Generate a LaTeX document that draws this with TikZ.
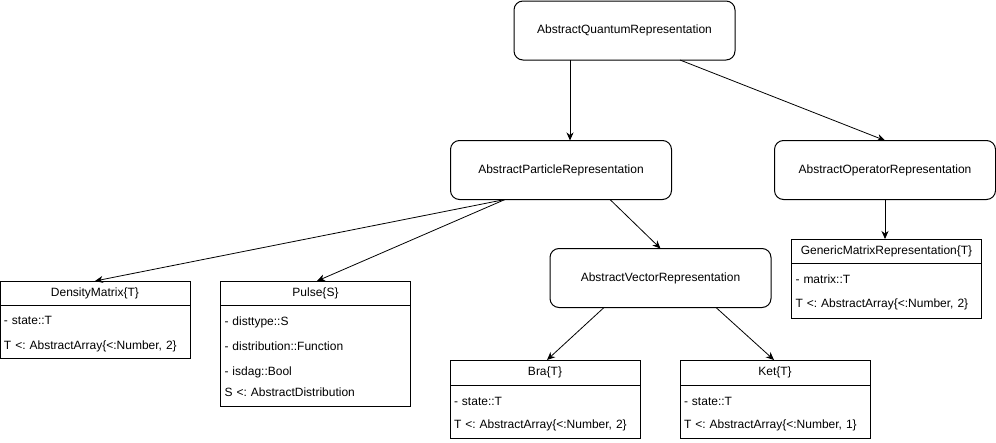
\documentclass[tikz,border=0pt]{standalone}
\usepackage{fontspec}
\setmainfont{Liberation Sans}
\usetikzlibrary{positioning, arrows.meta}
\newcommand{\boxfont}{\fontsize{12}{25}\selectfont\frenchspacing}
\tikzset{
  absbox/.style={
    draw,
    rounded corners=9pt,
    line width=1pt,
    minimum width=221pt,
    minimum height=59pt,
    outer sep=0pt,
    font=\boxfont
  },
  classhead/.style={draw, line width=1pt, minimum width=190pt, minimum height=24pt, inner sep=0pt, outer sep=0pt, font=\boxfont},
  classbody/.style={draw, line width=1pt, text width=182pt, align=left, inner xsep=4pt, inner ysep=0pt, outer sep=0pt, anchor=north, font=\boxfont},
  arr/.style={-{Stealth[length=8pt, width=7pt, inset=2.5pt]}, line width=0.8pt}
}

\begin{document}
\begin{tikzpicture}[x=1pt, y=-1pt]
  \useasboundingbox (0,0) rectangle (996,442);

  % Abstract types
  \node[absbox] (aqr) at (624.5,30.5) {AbstractQuantumRepresentation};
  \node[absbox] (apr) at (561,170) {AbstractParticleRepresentation};
  \node[absbox] (aor) at (885,170) {AbstractOperatorRepresentation};
  \node[absbox] (avr) at (660.5,278) {AbstractVectorRepresentation};

  % Concrete types
  \node[classhead] (dm) at (95,293) {DensityMatrix\{T\}};
  \node[classbody, minimum height=53pt] (dm-body) at (dm.south) {%
    \strut - state::T\\
    T <: AbstractArray\{<:Number, 2\}\strut};

  \node[classhead] (pulse) at (315.5,293) {Pulse\{S\}};
  \node[classbody, minimum height=101pt] (pulse-body) at (pulse.south) {%
    \strut - disttype::S\\
    - distribution::Function\\
    - isdag::Bool\\[-4pt]
    S <: AbstractDistribution\strut};

  \node[classhead, minimum height=25pt] (bra) at (545,372.5) {Bra\{T\}};
  \node[classbody, minimum height=53pt] (bra-body) at (bra.south) {%
    \strut - state::T\\[-2pt]
    T <: AbstractArray\{<:Number, 2\}\strut};

  \node[classhead, minimum height=25pt] (ket) at (775,372.5) {Ket\{T\}};
  \node[classbody, minimum height=53pt] (ket-body) at (ket.south) {%
    \strut - state::T\\[-2pt]
    T <: AbstractArray\{<:Number, 1\}\strut};

  \node[classhead] (gmr) at (886.5,251) {GenericMatrixRepresentation\{T\}};
  \node[classbody, minimum height=55pt] (gmr-body) at (gmr.south) {%
    \strut - matrix::T\\[-1pt]
    T <: AbstractArray\{<:Number, 2\}\strut};

  \draw[arr] ([xshift=-54.5pt]aqr.south) -- ([xshift=9pt]apr.north);
  \draw[arr] ([xshift=55.5pt]aqr.south) -- (aor.north);
  \draw[arr] ([xshift=-56pt]apr.south) -- (dm.north);
  \draw[arr] ([xshift=-56pt]apr.south) -- ([xshift=1.5pt]pulse.north);
  \draw[arr] ([xshift=49pt]apr.south) -- (avr.north);
  \draw[arr] (aor.south) -- (aor.south |- gmr.north);
  \draw[arr] ([xshift=-56.5pt]avr.south) -- ([xshift=2pt]bra.north);
  \draw[arr] ([xshift=55.5pt]avr.south) -- ([xshift=-1pt]ket.north);

\end{tikzpicture}
\end{document}
